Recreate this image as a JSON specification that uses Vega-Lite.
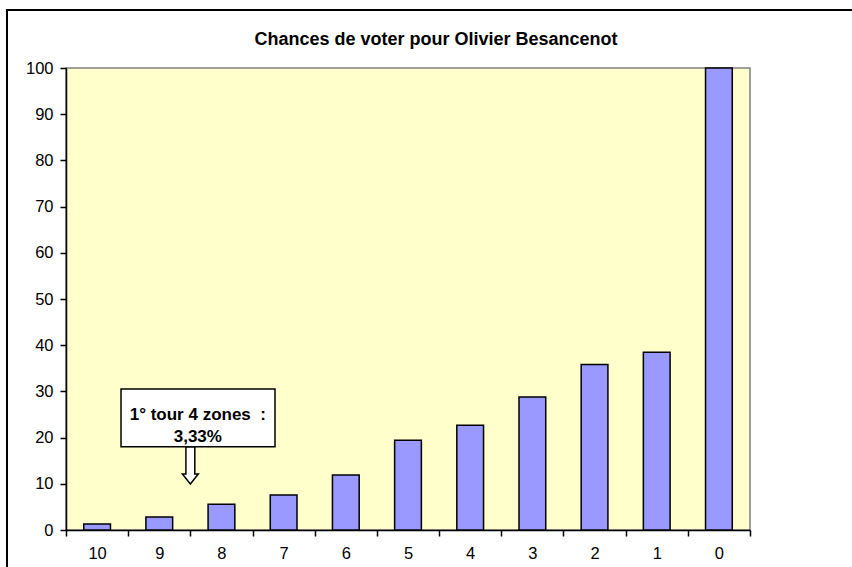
{
  "$schema": "https://vega.github.io/schema/vega-lite/v6.json",
  "width": 684,
  "height": 462,
  "autosize": {"type": "none"},
  "padding": {"left": 66, "top": 68, "right": 102, "bottom": 37},
  "background": "white",
  "title": {
    "text": "Chances de voter pour Olivier Besancenot",
    "font": "Liberation Sans",
    "fontSize": 18,
    "fontWeight": "bold",
    "color": "black",
    "anchor": "middle",
    "frame": "group",
    "dx": 28,
    "baseline": "alphabetic",
    "offset": -54
  },
  "config": {
    "view": {"fill": "#FFFFCC", "stroke": "#808080", "strokeWidth": 1.5},
    "axis": {
      "domainColor": "black",
      "domainWidth": 1.5,
      "tickColor": "black",
      "tickWidth": 1.5,
      "tickSize": 6,
      "labelFont": "Liberation Sans",
      "labelFontSize": 16.5,
      "labelColor": "black",
      "grid": false,
      "title": null,
      "zindex": 1
    }
  },
  "layer": [
    {
      "data": {
        "values": [
          {"note": "10", "chances": 1.3},
          {"note": "9", "chances": 2.8},
          {"note": "8", "chances": 5.6},
          {"note": "7", "chances": 7.6},
          {"note": "6", "chances": 11.9},
          {"note": "5", "chances": 19.4},
          {"note": "4", "chances": 22.7},
          {"note": "3", "chances": 28.8},
          {"note": "2", "chances": 35.8},
          {"note": "1", "chances": 38.5},
          {"note": "0", "chances": 100}
        ]
      },
      "mark": {"type": "bar", "fill": "#9999FF", "stroke": "black", "strokeWidth": 1.5, "width": {"band": 0.43}},
      "encoding": {
        "x": {
          "field": "note",
          "type": "ordinal",
          "sort": null,
          "scale": {"paddingInner": 0, "paddingOuter": 0},
          "axis": {"labelAngle": 0, "tickBand": "extent", "labelPadding": 9}
        },
        "y": {
          "field": "chances",
          "type": "quantitative",
          "scale": {"domain": [0, 100], "nice": false},
          "axis": {"values": [0, 10, 20, 30, 40, 50, 60, 70, 80, 90, 100], "labelPadding": 7}
        }
      }
    },
    {
      "data": {"values": [{"x": 0.885, "x2": 3.361, "y": 30.5, "y2": 18.0}]},
      "mark": {"type": "rect", "fill": "white", "stroke": "black", "strokeWidth": 1.5},
      "encoding": {
        "x": {"field": "x", "type": "quantitative", "scale": {"domain": [0, 11], "nice": false, "zero": false}, "axis": null},
        "x2": {"field": "x2"},
        "y": {"field": "y", "type": "quantitative", "scale": {"domain": [0, 100], "nice": false}},
        "y2": {"field": "y2"}
      }
    },
    {
      "data": {"values": [{"x": 2.12, "y": 24.8, "label": ["1° tour 4 zones \u00a0:", "3,33%"]}]},
      "mark": {"type": "text", "font": "Liberation Sans", "fontSize": 17, "fontWeight": "bold", "color": "black", "align": "center", "baseline": "middle", "lineHeight": 22},
      "encoding": {
        "x": {"field": "x", "type": "quantitative", "scale": {"domain": [0, 11], "nice": false, "zero": false}, "axis": null},
        "y": {"field": "y", "type": "quantitative", "scale": {"domain": [0, 100], "nice": false}},
        "text": {"field": "label"}
      }
    },
    {
      "data": {"values": [{"x": 2.0, "y": 13.96}]},
      "mark": {
        "type": "point",
        "shape": "M-0.24,-1L0.24,-1L0.24,0.46L0.43,0.46L0,1L-0.43,0.46L-0.24,0.46Z",
        "size": 1369,
        "filled": true,
        "fill": "white",
        "stroke": "black",
        "strokeWidth": 1.5,
        "opacity": 1
      },
      "encoding": {
        "x": {"field": "x", "type": "quantitative", "scale": {"domain": [0, 11], "nice": false, "zero": false}, "axis": null},
        "y": {"field": "y", "type": "quantitative", "scale": {"domain": [0, 100], "nice": false}}
      }
    },
    {
      "data": {"values": [{"x": -0.949, "x2": 14, "y": 112.55, "y2": -20}]},
      "mark": {"type": "rect", "fillOpacity": 0, "stroke": "black", "strokeWidth": 2},
      "encoding": {
        "x": {"field": "x", "type": "quantitative", "scale": {"domain": [0, 11], "nice": false, "zero": false}, "axis": null},
        "x2": {"field": "x2"},
        "y": {"field": "y", "type": "quantitative", "scale": {"domain": [0, 100], "nice": false}},
        "y2": {"field": "y2"}
      }
    }
  ],
  "resolve": {"scale": {"x": "independent"}, "axis": {"x": "independent"}}
}
